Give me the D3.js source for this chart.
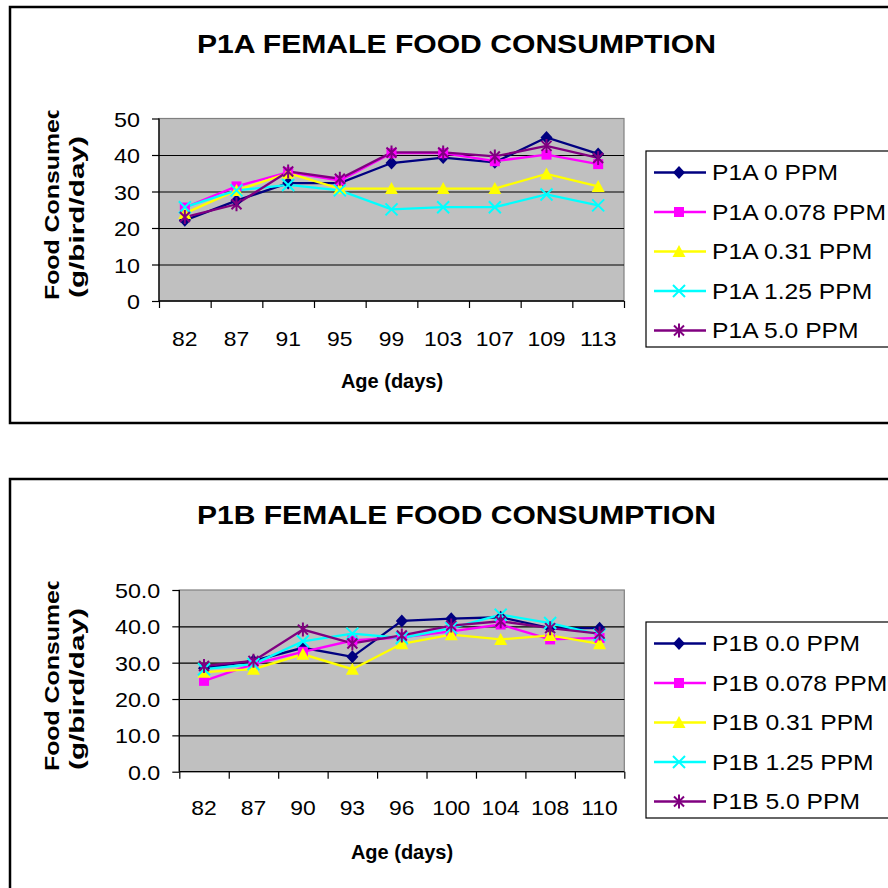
<!DOCTYPE html>
<html><head><meta charset="utf-8">
<script src="https://cdn.jsdelivr.net/npm/d3@7"></script>
<style>
body{margin:0;background:#fff}
svg{display:block}
text{font-family:"Liberation Sans",Arial,Helvetica,sans-serif;fill:#000}
</style>
</head><body>
<svg id="c" width="888" height="888"></svg>
<script>
// ---------------- DATA ----------------
const agesA = ["82","87","91","95","99","103","107","109","113"];
const namesA = ["P1A 0 PPM","P1A 0.078 PPM","P1A 0.31 PPM","P1A 1.25 PPM","P1A 5.0 PPM"];
const a_0    = [22.1, 27.5, 32.3, 32.3, 37.8, 39.3, 38.0, 44.8, 40.3];
const a_0078 = [25.6, 31.4, 35.3, 33.0, 40.5, 40.5, 38.3, 40.1, 37.5];
const a_031  = [24.0, 30.3, 35.0, 30.8, 30.8, 30.8, 30.8, 34.8, 31.4];
const a_125  = [25.7, 30.3, 31.8, 30.3, 25.1, 25.7, 25.7, 29.2, 26.2];
const a_50   = [23.0, 26.5, 35.5, 33.5, 40.7, 40.7, 39.6, 42.5, 39.2];
const yTicksA = [0,10,20,30,40,50];

const agesB = ["82","87","90","93","96","100","104","108","110"];
const namesB = ["P1B 0.0 PPM","P1B 0.078 PPM","P1B 0.31 PPM","P1B 1.25 PPM","P1B 5.0 PPM"];
const b_0    = [28.5, 30.5, 34.1, 31.6, 41.5, 42.1, 42.5, 39.5, 39.5];
const b_0078 = [25.0, 29.6, 33.0, 36.1, 37.0, 38.6, 40.5, 36.4, 36.8];
const b_031  = [27.4, 28.2, 32.3, 28.2, 35.2, 37.7, 36.4, 37.5, 35.2];
const b_125  = [28.2, 29.6, 35.9, 38.0, 36.8, 39.5, 43.2, 40.9, 37.7];
const b_50   = [29.1, 30.5, 39.1, 35.3, 37.5, 40.2, 41.4, 39.5, 38.0];
const yTicksB = [0,10,20,30,40,50];

const titleA = "P1A FEMALE FOOD CONSUMPTION";
const titleB = "P1B FEMALE FOOD CONSUMPTION";
const xTitle = "Age (days)";
const yTitle1 = "Food Consumed";
const yTitle2 = "(g/bird/day)";

// ---------------- STYLE ----------------
const colors  = ["#000080","#FF00FF","#FFFF00","#00FFFF","#800080"];
const markers = ["diamond","square","triangle","x","star"];
const FONT = '"Liberation Sans",Arial,Helvetica,sans-serif';

const svg = d3.select("#c");

function stretch(sel, k){
  sel.each(function(){
    const w = this.getComputedTextLength();
    this.setAttribute("textLength", (w*k).toFixed(2));
    this.setAttribute("lengthAdjust","spacingAndGlyphs");
  });
}

function marker(g, type, color){
  if(type==="diamond"){
    g.append("path").attr("d","M0,-6.5L6,0L0,6.5L-6,0Z").attr("fill",color);
  } else if(type==="square"){
    g.append("rect").attr("x",-5).attr("y",-5).attr("width",10).attr("height",10).attr("fill",color);
  } else if(type==="triangle"){
    g.append("path").attr("d","M0,-6.5L6.5,5.5L-6.5,5.5Z").attr("fill",color);
  } else if(type==="x"){
    g.append("path").attr("d","M-6,-6L6,6M-6,6L6,-6").attr("stroke",color).attr("stroke-width",2).attr("fill","none");
  } else {
    g.append("path").attr("d","M-5,-5L5,5M-5,5L5,-5M0,-7L0,7").attr("stroke",color).attr("stroke-width",2).attr("fill","none");
  }
}

function drawChart(cfg){
  const root = svg.append("g");
  // outer border
  root.append("rect").attr("x",cfg.box[0]).attr("y",cfg.box[1]).attr("width",cfg.box[2]).attr("height",cfg.box[3])
    .attr("fill","#fff").attr("stroke","#000").attr("stroke-width",2.5);

  // title
  root.append("text").attr("x",cfg.titleX).attr("y",cfg.titleY).attr("text-anchor","middle")
    .style("font-size","26px").style("font-weight","bold").text(cfg.title)
    .attr("textLength",cfg.titleW).attr("lengthAdjust","spacingAndGlyphs");

  const p = cfg.plot;
  const x = d3.scaleBand().domain(cfg.cats).range([p.x0,p.x1]).padding(0);
  const y = d3.scaleLinear().domain([0,50]).range([p.y1,p.y0]);

  // plot background
  root.append("rect").attr("x",p.x0).attr("y",p.y0).attr("width",p.x1-p.x0).attr("height",p.y1-p.y0)
    .attr("fill","#C0C0C0").attr("stroke","#808080").attr("stroke-width",1.2);

  // gridlines
  const grid = root.append("g").attr("transform",`translate(${p.x0},0)`)
    .call(d3.axisLeft(y).tickValues(cfg.yTicks.filter(v=>v>0 && v<50)).tickSize(-(p.x1-p.x0)).tickFormat(""));
  grid.select(".domain").remove();
  grid.selectAll("line").attr("stroke","#000").attr("stroke-width",1.2);

  // y axis
  const ya = root.append("g").attr("transform",`translate(${p.x0},0)`)
    .call(d3.axisLeft(y).tickValues(cfg.yTicks).tickSize(7).tickPadding(12).tickFormat(cfg.yFmt));
  ya.select(".domain").attr("stroke","#000").attr("stroke-width",1.3).attr("d",`M0,${p.y0}V${p.y1}`);
  ya.selectAll("line").attr("stroke","#000").attr("stroke-width",1.2);
  ya.selectAll("text").style("font-family",FONT).style("font-size","21px").attr("fill","#000").attr("dy","0.36em");
  stretch(ya.selectAll("text"),1.11);

  // x axis boundary ticks
  const xb = d3.scaleLinear().domain([0,cfg.cats.length]).range([p.x0,p.x1]);
  const xt = root.append("g").attr("transform",`translate(0,${p.y1})`)
    .call(d3.axisBottom(xb).tickValues(d3.range(cfg.cats.length+1)).tickSize(7).tickFormat(""));
  xt.select(".domain").attr("stroke","#000").attr("stroke-width",1.3).attr("d",`M${p.x0},0H${p.x1}`);
  xt.selectAll("line").attr("stroke","#000").attr("stroke-width",1.2);

  // x labels
  const xl = root.append("g").attr("transform",`translate(0,${p.y1})`)
    .call(d3.axisBottom(x).tickSize(0).tickPadding(cfg.xLabPad));
  xl.select(".domain").remove();
  xl.selectAll("text").style("font-family",FONT).style("font-size","21px").attr("fill","#000");
  stretch(xl.selectAll("text"),1.09);

  // axis titles
  root.append("text").attr("x",cfg.xTitleX).attr("y",cfg.xTitleY).attr("text-anchor","middle")
    .style("font-size","20px").style("font-weight","bold").text(xTitle);

  const clipId = "clip"+cfg.id;
  svg.append("clipPath").attr("id",clipId).append("rect")
    .attr("x",0).attr("y",cfg.yClip).attr("width",150).attr("height",400);
  const yt = root.append("g").attr("clip-path",`url(#${clipId})`);
  yt.append("text").attr("transform",`translate(${cfg.yT1x},${cfg.yT1y}) rotate(-90)`)
    .attr("text-anchor","start").style("font-size","21px").style("font-weight","bold").text(yTitle1)
    .attr("textLength",cfg.yT1w).attr("lengthAdjust","spacingAndGlyphs");
  yt.append("text").attr("transform",`translate(${cfg.yT2x},${cfg.yT2y}) rotate(-90)`)
    .attr("text-anchor","start").style("font-size","21px").style("font-weight","bold").text(yTitle2)
    .attr("textLength",cfg.yT2w).attr("lengthAdjust","spacingAndGlyphs");

  // series
  const line = d3.line().x((d,i)=>x(cfg.cats[i])+x.bandwidth()/2).y(d=>y(d));
  cfg.series.forEach((s,k)=>{
    root.append("path").attr("d",line(s)).attr("fill","none").attr("stroke",colors[k]).attr("stroke-width",2.3);
  });
  cfg.series.forEach((s,k)=>{
    s.forEach((v,i)=>{
      const g = root.append("g").attr("transform",`translate(${x(cfg.cats[i])+x.bandwidth()/2},${y(v)})`);
      marker(g, markers[k], colors[k]);
    });
  });

  // legend
  const L = cfg.legend;
  root.append("rect").attr("x",L.x).attr("y",L.y).attr("width",L.w).attr("height",L.h)
    .attr("fill","#fff").attr("stroke","#000").attr("stroke-width",1.2);
  cfg.names.forEach((n,k)=>{
    const yy = L.y + L.first + k*L.step;
    root.append("line").attr("x1",L.x+8).attr("x2",L.x+60).attr("y1",yy).attr("y2",yy)
      .attr("stroke",colors[k]).attr("stroke-width",2.3);
    const g = root.append("g").attr("transform",`translate(${L.x+33},${yy})`);
    marker(g, markers[k], colors[k]);
    const t = root.append("text").attr("x",L.x+66).attr("y",yy).attr("dy","0.36em")
      .style("font-size","22px").text(n);
    stretch(t,1.12);
  });
}

drawChart({
  id:"A", box:[10,7,900,416], title:titleA, titleX:456.5, titleY:53, titleW:519,
  cats:agesA, plot:{x0:159,x1:624,y0:118.5,y1:301}, yTicks:yTicksA, yFmt:d3.format("d"),
  xLabPad:30, xTitleX:392, xTitleY:388,
  yClip:110.5, yT1x:59, yT1y:300, yT1w:196, yT2x:84, yT2y:298, yT2w:162,
  series:[a_0,a_0078,a_031,a_125,a_50], names:namesA,
  legend:{x:646,y:151,w:260,h:196,first:21.5,step:39.5}
});
drawChart({
  id:"B", box:[10,479,900,420], title:titleB, titleX:456.5, titleY:524, titleW:519,
  cats:agesB, plot:{x0:179.3,x1:624.3,y0:590,y1:771.7}, yTicks:yTicksB, yFmt:d3.format(".1f"),
  xLabPad:28, xTitleX:402, xTitleY:859,
  yClip:581.5, yT1x:59, yT1y:771, yT1w:196, yT2x:84, yT2y:770, yT2w:162,
  series:[b_0,b_0078,b_031,b_125,b_50], names:namesB,
  legend:{x:646,y:622,w:260,h:196,first:21.5,step:39.5}
});
</script>
</body></html>
